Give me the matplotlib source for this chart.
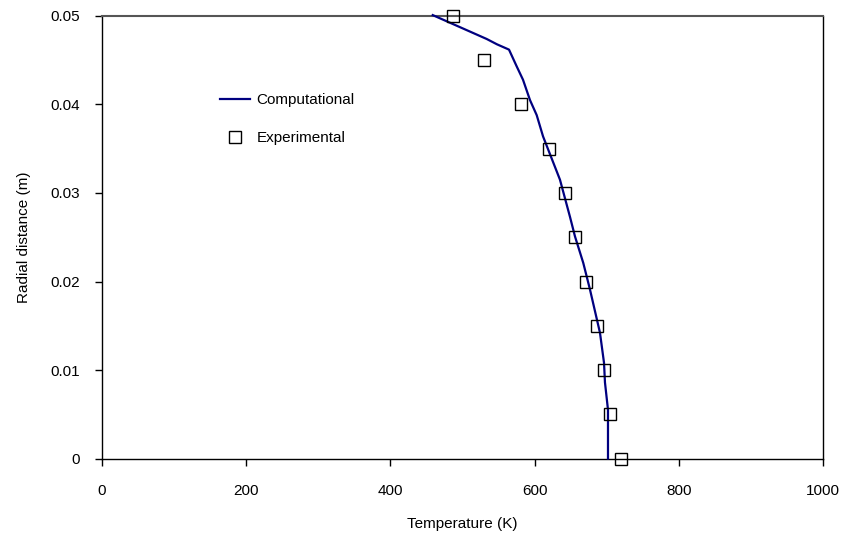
import matplotlib
matplotlib.use("Agg")
import matplotlib.pyplot as plt

plt.rcParams['font.family'] = ['Liberation Sans', 'DejaVu Sans']

# Computational temperature profile along the radius
comp_temp = [458.7, 533.6, 547.8, 564.5, 575.2, 583.9, 593.6, 602.9, 611.7,
             635.2, 649.1, 656.0, 667.5, 676.8, 690.7, 696.3, 697.6, 701.8, 701.8]
comp_r = [0.0501, 0.0474, 0.0468, 0.0462, 0.0443, 0.0428, 0.0405, 0.0388, 0.0364,
          0.0315, 0.0273, 0.0251, 0.0221, 0.0191, 0.0142, 0.0108, 0.0086, 0.0055, 0.0]

# Experimental measurements
exp_temp = [487, 530, 581, 620, 642, 656, 671, 686, 696, 705, 720]
exp_r = [0.050, 0.045, 0.040, 0.035, 0.030, 0.025, 0.020, 0.015, 0.010, 0.005, 0.0]

x_ticks = [0, 200, 400, 600, 800, 1000]
y_ticks = [0, 0.01, 0.02, 0.03, 0.04, 0.05]
y_tick_labels = ['0', '0.01', '0.02', '0.03', '0.04', '0.05']

FS = 11

fig = plt.figure(figsize=(8.48, 5.40), dpi=100)
ax = fig.add_axes([0.1203, 0.1509, 0.8502, 0.8195])

ax.plot(comp_temp, comp_r, color='#000080', lw=1.6, label='Computational',
        solid_joinstyle='round', clip_on=False, zorder=3)
ax.plot(exp_temp, exp_r, ls='none', marker='s', ms=9, mfc='none', mec='black',
        mew=1.0, label='Experimental', clip_on=False, zorder=4)

ax.set_xlim(0, 1000)
ax.set_ylim(0, 0.05)
ax.set_xticks(x_ticks)
ax.set_yticks(y_ticks)
ax.set_yticklabels(y_tick_labels)

ax.tick_params(axis='x', direction='out', length=5, width=1, pad=13, labelsize=FS)
ax.tick_params(axis='y', direction='out', length=5, width=1, pad=11, labelsize=FS)

for side in ('left', 'bottom', 'right'):
    ax.spines[side].set_color('black')
    ax.spines[side].set_linewidth(1.0)
ax.spines['top'].set_color('#555555')
ax.spines['top'].set_linewidth(1.5)

ax.set_xlabel('Temperature (K)', fontsize=FS, labelpad=14)
ax.set_ylabel('Radial distance (m)', fontsize=FS, labelpad=14)

ax.legend(loc='upper left', bbox_to_anchor=(0.144, 0.857), frameon=False,
          fontsize=FS, handlelength=2.0, handletextpad=0.4, labelspacing=1.6)

fig.savefig('out.png', dpi=100, facecolor='white')
